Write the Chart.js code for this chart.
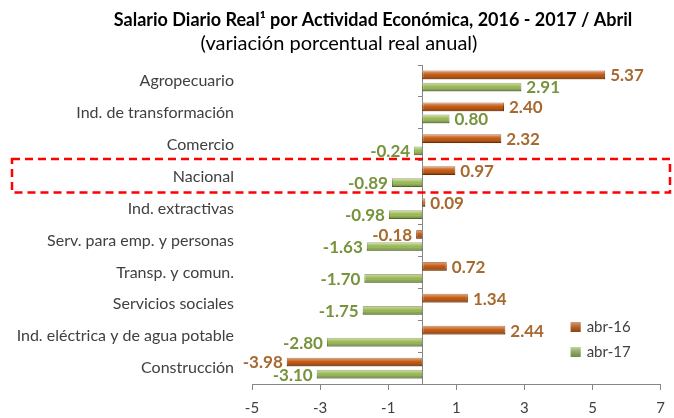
<!DOCTYPE html>
<html>
<head>
<meta charset="utf-8">
<script src="https://cdn.jsdelivr.net/npm/chart.js@4/dist/chart.umd.min.js"></script>
<style>
html,body{margin:0;padding:0;background:#fff;}
#wrap{width:674px;height:418px;position:relative;}
</style>
</head>
<body>
<div id="wrap"><canvas id="c" width="674" height="418"></canvas></div>
<script>
const categories = ["Agropecuario","Ind. de transformación","Comercio","Nacional","Ind. extractivas","Serv. para emp. y personas","Transp. y comun.","Servicios sociales","Ind. eléctrica y de agua potable","Construcción"];
const abr16 = [5.37, 2.40, 2.32, 0.97, 0.09, -0.18, 0.72, 1.34, 2.44, -3.98];
const abr17 = [2.91, 0.80, -0.24, -0.89, -0.98, -1.63, -1.70, -1.75, -2.80, -3.10];
const seriesNames = ["abr-16","abr-17"];
const xTicks = [-5, -3, -1, 1, 3, 5, 7];
const titleText = 'Salario Diario Real¹ por Actividad Económica, 2016 - 2017 / Abril';
const subtitleText = '(variación porcentual real anual)';
const highlightCategory = "Nacional";

const FONT = "Lato, 'Open Sans', sans-serif";
const barColors = ["#C55A11", "#9BBB59"];
const barBorders = ["#8A3B08", "#6F8B36"];
const labelColors = ["#A8692F", "#77933C"];

const titles = {
  id: 'titles',
  afterDraw(chart) {
    const ctx = chart.ctx;
    ctx.save();
    ctx.fillStyle = '#000';
    ctx.textAlign = 'center';
    ctx.textBaseline = 'middle';
    ctx.font = "bold 18px " + FONT;
    ctx.fillText(titleText, 373, 20);
    ctx.font = "20px " + FONT;
    ctx.fillText(subtitleText, 339, 44);
    ctx.restore();
  }
};

const sheen = {
  id: 'sheen',
  afterDatasetsDraw(chart) {
    const ctx = chart.ctx;
    chart.data.datasets.forEach((ds, di) => {
      const meta = chart.getDatasetMeta(di);
      meta.data.forEach((el) => {
        const p = el.getProps(['x','y','base','height'], true);
        const top = p.y - p.height/2;
        const l = Math.min(p.x, p.base), w = Math.abs(p.x - p.base);
        const g = ctx.createLinearGradient(0, top, 0, top + p.height);
        g.addColorStop(0, 'rgba(255,255,255,0.45)');
        g.addColorStop(0.35, 'rgba(255,255,255,0.15)');
        g.addColorStop(0.6, 'rgba(0,0,0,0)');
        g.addColorStop(1, 'rgba(0,0,0,0.3)');
        ctx.save();
        ctx.fillStyle = g;
        ctx.fillRect(l, top, w, p.height);
        ctx.restore();
      });
    });
  }
};

const valueLabels = {
  id: 'valueLabels',
  afterDatasetsDraw(chart) {
    const ctx = chart.ctx;
    ctx.save();
    ctx.font = "bold 17px " + FONT;
    ctx.textBaseline = 'middle';
    chart.data.datasets.forEach((ds, di) => {
      const meta = chart.getDatasetMeta(di);
      ctx.fillStyle = labelColors[di];
      meta.data.forEach((el, i) => {
        const v = ds.data[i];
        const p = el.getProps(['x','y'], true);
        if (v >= 0) { ctx.textAlign = 'left'; ctx.fillText(v.toFixed(2), p.x + 5, p.y + 1); }
        else { ctx.textAlign = 'right'; ctx.fillText(v.toFixed(2), p.x - 4, p.y + 1); }
      });
    });
    ctx.restore();
  }
};

const legendBox = {
  id: 'legendBox',
  afterDraw(chart) {
    const ctx = chart.ctx;
    const a = chart.chartArea;
    ctx.save();
    ctx.font = "15px " + FONT;
    ctx.textBaseline = 'middle';
    ctx.textAlign = 'left';
    chart.data.datasets.forEach((ds, di) => {
      const x = a.right - 90, y = a.bottom - 57 + di * 25;
      ctx.fillStyle = barColors[di];
      ctx.fillRect(x, y - 5, 10, 10);
      const g = ctx.createLinearGradient(0, y - 5, 0, y + 5);
      g.addColorStop(0, 'rgba(255,255,255,0.4)');
      g.addColorStop(1, 'rgba(0,0,0,0.25)');
      ctx.fillStyle = g;
      ctx.fillRect(x, y - 5, 10, 10);
      ctx.fillStyle = '#404040';
      ctx.fillText(ds.label, x + 16, y);
    });
    ctx.restore();
  }
};

const highlight = {
  id: 'highlight',
  afterDraw(chart) {
    const ys = chart.scales.y;
    const idx = categories.indexOf(highlightCategory);
    const top = ys.getPixelForValue(idx - 0.55);
    const bot = ys.getPixelForValue(idx + 0.5);
    const ctx = chart.ctx;
    ctx.save();
    ctx.strokeStyle = '#FF0000';
    ctx.lineWidth = 2.5;
    ctx.setLineDash([8, 5]);
    ctx.strokeRect(12, top, chart.width - 16, bot - top);
    ctx.restore();
  }
};

new Chart(document.getElementById('c'), {
  type: 'bar',
  data: {
    labels: categories,
    datasets: [
      { label: seriesNames[0], data: abr16, backgroundColor: barColors[0], borderColor: barBorders[0], borderWidth: 1, borderSkipped: false },
      { label: seriesNames[1], data: abr17, backgroundColor: barColors[1], borderColor: barBorders[1], borderWidth: 1, borderSkipped: false }
    ]
  },
  options: {
    indexAxis: 'y',
    responsive: false,
    animation: false,
    events: [],
    datasets: { bar: { categoryPercentage: 0.76, barPercentage: 0.72 } },
    layout: { padding: { left: 0, right: 9, top: 65, bottom: 0 } },
    plugins: {
      legend: { display: false },
      tooltip: { enabled: false },
      title: { display: false },
      subtitle: { display: false }
    },
    scales: {
      x: {
        type: 'linear',
        min: xTicks[0], max: xTicks[xTicks.length - 1],
        ticks: { stepSize: xTicks[1] - xTicks[0], color: '#404040', font: { family: FONT, size: 15 }, padding: 9 },
        grid: { display: true, drawOnChartArea: false, tickLength: 6, color: '#868686' },
        border: { display: true, color: '#868686' },
        afterFit(s) { s.height = 34; }
      },
      y: {
        type: 'category',
        position: 'left',
        ticks: { color: '#404040', font: { family: FONT, size: 16 }, padding: 10 },
        grid: { display: false },
        border: { display: false },
        afterFit(s) { s.width = 252; }
      },
      y2: {
        type: 'category',
        position: { x: 0 },
        offset: true,
        ticks: { display: false },
        grid: { display: true, offset: true, drawOnChartArea: false, tickLength: 4, color: '#868686' },
        border: { display: true, color: '#868686' }
      }
    }
  },
  plugins: [sheen, valueLabels, legendBox, highlight, titles]
});
</script>
</body>
</html>
